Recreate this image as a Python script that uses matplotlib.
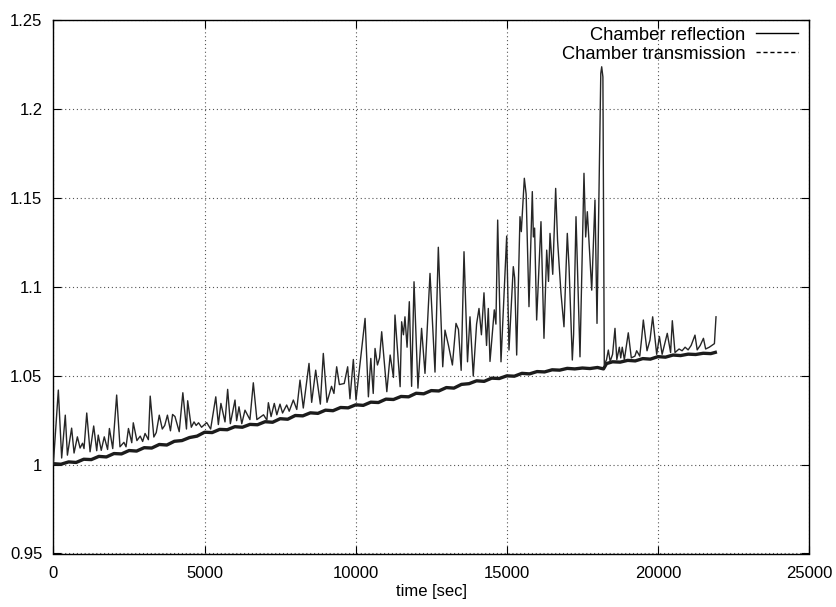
import matplotlib
matplotlib.use("Agg")
import matplotlib.pyplot as plt
from matplotlib.lines import Line2D

# ---------------- data ----------------
refl_t = [0, 160, 270, 390, 460, 600, 680, 790, 880, 960, 1010, 1100, 1210, 1330, 1430, 1480,
          1580, 1680, 1790, 1850, 1960, 2090, 2200, 2330, 2400, 2480, 2590, 2640, 2760, 2870,
          2950, 3030, 3140, 3200, 3320, 3400, 3500, 3600, 3680, 3770, 3870, 3940, 4020, 4160,
          4280, 4400, 4440, 4560, 4650, 4720, 4800, 4900, 5070, 5200, 5370, 5455, 5540, 5675,
          5763, 5852, 6006, 6060, 6138, 6230, 6337, 6500, 6612, 6730, 6950, 7060, 7110, 7200,
          7306, 7390, 7495, 7580, 7716, 7800, 7936, 8050, 8157, 8266, 8455, 8543, 8676, 8830,
          8928, 9050, 9200, 9280, 9370, 9460, 9620, 9734, 9810, 9922, 10010, 10310, 10420,
          10500, 10580, 10640, 10720, 10790, 10860, 11030, 11140, 11250, 11300, 11470, 11520,
          11580, 11630, 11700, 11774, 11850, 11930, 12060, 12180, 12293, 12459, 12624, 12734,
          12880, 12955, 13070, 13200, 13319, 13400, 13490, 13584, 13700, 13782, 13890, 14000,
          14080, 14160, 14245, 14330, 14388, 14444, 14586, 14640, 14698, 14808, 14996, 15072,
          15215, 15260, 15327, 15436, 15480, 15580, 15640, 15734, 15844, 15880, 15920, 15988,
          16131, 16230, 16320, 16380, 16430, 16520, 16617, 16680, 16793, 16892, 17002, 17060,
          17168, 17210, 17290, 17422, 17554, 17610, 17665, 17810, 17918, 17985, 18110, 18140,
          18180, 18226, 18300, 18360, 18420, 18500, 18580, 18640, 18724, 18770, 18820, 18890,
          19020, 19120, 19240, 19297, 19400, 19463, 19518, 19640, 19738, 19827, 19960, 20050,
          20140, 20310, 20420, 20477, 20566, 20700, 20800, 20900, 21000, 21100, 21227, 21300,
          21400, 21507, 21580, 21700, 21870, 21923]
refl_v = [1.0016, 1.0419, 1.0037, 1.0278, 1.0053, 1.0205, 1.0065, 1.0156, 1.0093, 1.0120,
          1.0090, 1.0290, 1.0072, 1.0217, 1.0078, 1.0166, 1.0080, 1.0156, 1.0085, 1.0203,
          1.0090, 1.0391, 1.0100, 1.0125, 1.0100, 1.0203, 1.0123, 1.0235, 1.0135, 1.0160,
          1.0130, 1.0175, 1.0140, 1.0385, 1.0155, 1.0180, 1.0278, 1.0200, 1.0220, 1.0278,
          1.0190, 1.0282, 1.0270, 1.0185, 1.0404, 1.0200, 1.0359, 1.0210, 1.0240, 1.0220,
          1.0235, 1.0210, 1.0236, 1.0200, 1.0381, 1.0225, 1.0344, 1.0240, 1.0423, 1.0230,
          1.0363, 1.0247, 1.0325, 1.0230, 1.0306, 1.0253, 1.0460, 1.0253, 1.0280, 1.0250,
          1.0348, 1.0270, 1.0344, 1.0280, 1.0340, 1.0290, 1.0335, 1.0300, 1.0363, 1.0310,
          1.0475, 1.0318, 1.0569, 1.0350, 1.0531, 1.0340, 1.0625, 1.0350, 1.0440, 1.0400,
          1.0550, 1.0450, 1.0456, 1.0550, 1.0370, 1.0591, 1.0363, 1.0822, 1.0381, 1.0597,
          1.0400, 1.0653, 1.0560, 1.0600, 1.0747, 1.0410, 1.0616, 1.0490, 1.0841, 1.0438,
          1.0803, 1.0730, 1.0831, 1.0660, 1.0916, 1.0440, 1.1028, 1.0430, 1.0766, 1.0513,
          1.1075, 1.0520, 1.1222, 1.0550, 1.0756, 1.0670, 1.0560, 1.0794, 1.0760, 1.0530,
          1.1197, 1.0578, 1.0831, 1.0498, 1.0790, 1.0878, 1.0730, 1.0966, 1.0670, 1.0878,
          1.0580, 1.0870, 1.0790, 1.1375, 1.0578, 1.1285, 1.0644, 1.1113, 1.1050, 1.0616,
          1.1394, 1.1310, 1.1610, 1.1520, 1.0888, 1.1535, 1.1280, 1.1330, 1.0813, 1.1366,
          1.0710, 1.1206, 1.1030, 1.1300, 1.1070, 1.1553, 1.1260, 1.0963, 1.0775, 1.1300,
          1.1110, 1.0588, 1.0730, 1.1394, 1.0606, 1.1638, 1.1280, 1.1422, 1.0981, 1.1488,
          1.0794, 1.2200, 1.2237, 1.2180, 1.0560, 1.0590, 1.0644, 1.0580, 1.0620, 1.0766,
          1.0590, 1.0660, 1.0600, 1.0660, 1.0590, 1.0741, 1.0600, 1.0610, 1.0640, 1.0610,
          1.0710, 1.0813, 1.0640, 1.0700, 1.0831, 1.0620, 1.0720, 1.0620, 1.0738, 1.0630,
          1.0809, 1.0630, 1.0650, 1.0640, 1.0660, 1.0645, 1.0670, 1.0728, 1.0645, 1.0670,
          1.0710, 1.0650, 1.0660, 1.0680, 1.0831]

trans_t = [0, 250, 500, 750, 1000, 1250, 1500, 1750, 2000, 2250, 2500, 2750, 3000, 3250,
           3500, 3750, 4000, 4250, 4500, 4750, 5000, 5250, 5500, 5750, 6000, 6250, 6500,
           6750, 7000, 7250, 7500, 7750, 8000, 8250, 8500, 8750, 9000, 9250, 9500, 9750,
           10000, 10250, 10500, 10750, 11000, 11250, 11500, 11750, 12000, 12250, 12500,
           12750, 13000, 13250, 13500, 13750, 14000, 14250, 14500, 14750, 15000, 15250,
           15500, 15750, 16000, 16250, 16500, 16750, 17000, 17250, 17500, 17750, 18000,
           18200, 18300, 18500, 18750, 19000, 19250, 19500, 19750, 20000, 20250, 20500,
           20750, 21000, 21250, 21500, 21750, 21900]
trans_v = [1.0005, 1.0002, 1.0015, 1.0012, 1.0030, 1.0028, 1.0046, 1.0043, 1.0062, 1.0060,
           1.0079, 1.0076, 1.0095, 1.0093, 1.0113, 1.0110, 1.0131, 1.0135, 1.0152, 1.0160,
           1.0182, 1.0180, 1.0198, 1.0196, 1.0213, 1.0210, 1.0226, 1.0224, 1.0241, 1.0238,
           1.0258, 1.0255, 1.0276, 1.0274, 1.0291, 1.0288, 1.0306, 1.0303, 1.0321, 1.0319,
           1.0336, 1.0333, 1.0351, 1.0349, 1.0368, 1.0366, 1.0383, 1.0381, 1.0401, 1.0398,
           1.0416, 1.0414, 1.0433, 1.0430, 1.0451, 1.0455, 1.0471, 1.0468, 1.0486, 1.0484,
           1.0499, 1.0497, 1.0513, 1.0510, 1.0523, 1.0521, 1.0533, 1.0531, 1.0541, 1.0538,
           1.0543, 1.0540, 1.0546, 1.0538, 1.0568, 1.0578, 1.0576, 1.0586, 1.0583, 1.0596,
           1.0593, 1.0607, 1.0604, 1.0616, 1.0613, 1.0621, 1.0619, 1.0626, 1.0624, 1.0631]

x_ticks = [0, 5000, 10000, 15000, 20000, 25000]
x_tick_labels = ["0", "5000", "10000", "15000", "20000", "25000"]
y_ticks = [0.95, 1.0, 1.05, 1.1, 1.15, 1.2, 1.25]
y_tick_labels = ["0.95", "1", "1.05", "1.1", "1.15", "1.2", "1.25"]
series_names = ["Chamber reflection", "Chamber transmission"]
x_label = "time [sec]"

# ---------------- figure ----------------
plt.rcParams['font.family'] = ['Liberation Sans', 'DejaVu Sans']
fig = plt.figure(figsize=(8.37, 6.07), dpi=100)
ax = fig.add_axes([53.5 / 837, 1 - 553.5 / 607, (809 - 53.5) / 837, (553.5 - 20) / 607])

ax.plot(trans_t, trans_v, color="#1c1c1c", lw=2.4, solid_joinstyle="round", zorder=3)
ax.plot(refl_t, refl_v, color="#262626", lw=1.0, zorder=4)

ax.set_xlim(0, 25000)
ax.set_ylim(0.95, 1.25)
ax.set_xticks(x_ticks)
ax.set_xticklabels(x_tick_labels)
ax.set_yticks(y_ticks)
ax.set_yticklabels(y_tick_labels)
ax.tick_params(direction="in", length=6, width=0.8, top=True, right=True,
               labelsize=12, colors="black")
ax.tick_params(axis="y", pad=8)
ax.tick_params(axis="x", pad=9)
ax.grid(True, color="#555555", linestyle=(0, (1, 2.5)), linewidth=0.8)
for s in ax.spines.values():
    s.set_linewidth(1.0)
ax.set_xlabel(x_label, fontsize=12, labelpad=2)

handles = [Line2D([], [], color="black", lw=1.0),
           Line2D([], [], color="black", lw=1.0, linestyle=(0, (3, 2)))]
leg = ax.legend(handles, series_names, loc="upper right", frameon=False, markerfirst=False,
                fontsize=13.2, handlelength=2.3, handletextpad=0.55, labelspacing=0.1,
                borderpad=0.0, borderaxespad=0.0, bbox_to_anchor=(0.9854, 0.9874))
for t in leg.get_texts():
    t.set_ha("right")

fig.savefig("out.png", dpi=100)
